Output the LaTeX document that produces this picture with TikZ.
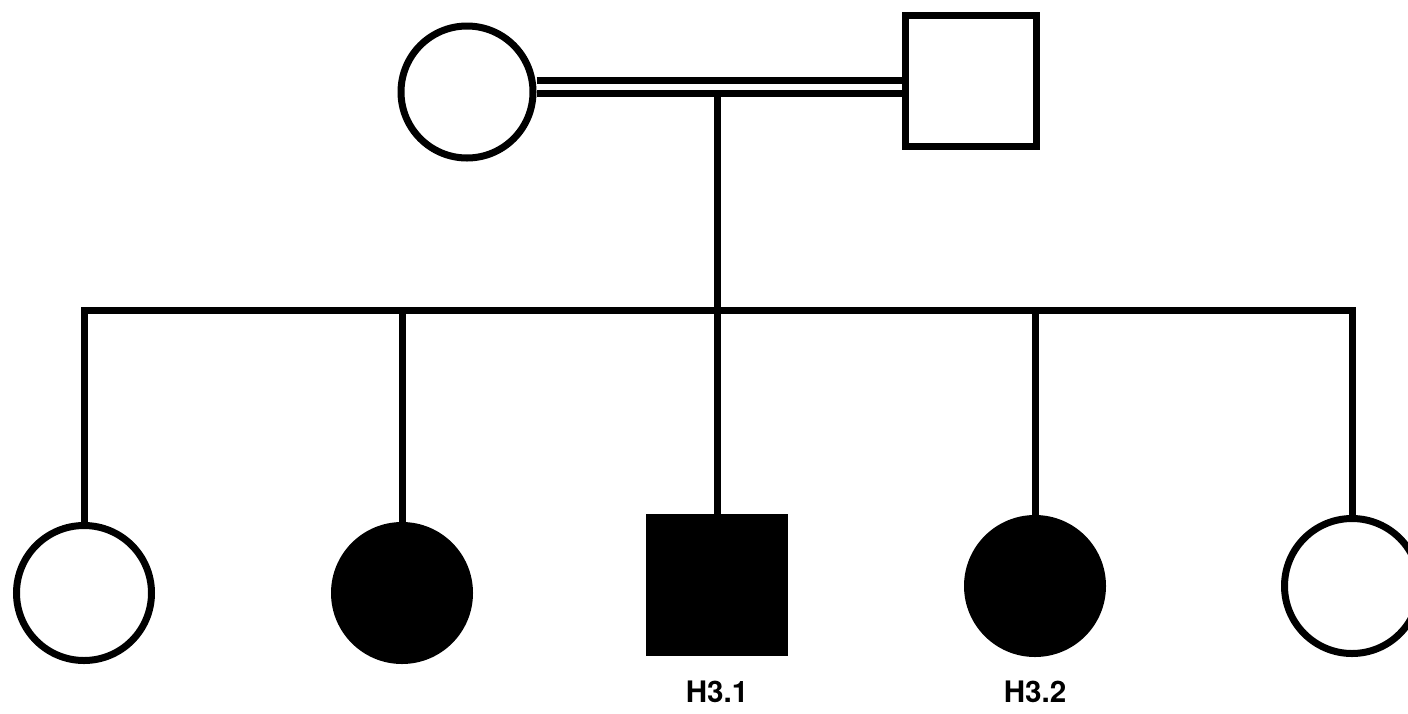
\documentclass[tikz,border=0pt]{standalone}
\usepackage{fontspec}
\setmainfont{TeX Gyre Heros}
\begin{document}
\begin{tikzpicture}[x=0.5pt,y=-0.5pt,
  lw/.style={line width=3.5pt},
  female/.style={circle,draw,lw,minimum size=67.5pt,inner sep=0pt,fill=white},
  male/.style={rectangle,draw,lw,minimum size=67.5pt,inner sep=0pt,fill=white},
  affected/.style={fill=black},
  lbl/.style={anchor=base,font=\bfseries\fontsize{14.8}{17}\selectfont},
  link/.style={lw,line join=miter}]
\useasboundingbox (0,0) rectangle (1408,713);
\clip (0,0) rectangle (1408,713);
% parents
\node[female,minimum size=66pt] (mom) at (467,92) {};
\node[male,minimum size=65.5pt] (dad) at (971,81) {};
% children
\node[female] (c1) at (84,593) {};
\node[female,affected] (c2) at (402,593) {};
\node[male,affected] (c3) at (717,585) {};
\node[female,affected] (c4) at (1035,586) {};
\node[female] (c5) at (1352,586) {};
% labels
\node[lbl] (l3) at (717,702) {H3.1};
\node[lbl] (l4) at (1035,702) {H3.2};
% marriage (double line)
\coordinate (mtop) at (0,80);
\coordinate (mbot) at (0,93);
\coordinate (sib) at (0,310);
\draw[link] (mom.east |- mtop) -- (dad.west |- mtop);
\draw[link] (mom.east |- mbot) -- (dad.west |- mbot);
% descent line
\draw[link] (c3.north |- mbot) -- (c3.north |- sib);
% sibship line
\draw[link] (c1.north) -- (c1.north |- sib) -- (c5.north |- sib) -- (c5.north);
\draw[link] (c2.north |- sib) -- (c2.north);
\draw[link] (c3.north |- sib) -- (c3.north);
\draw[link] (c4.north |- sib) -- (c4.north);
\end{tikzpicture}
\end{document}
